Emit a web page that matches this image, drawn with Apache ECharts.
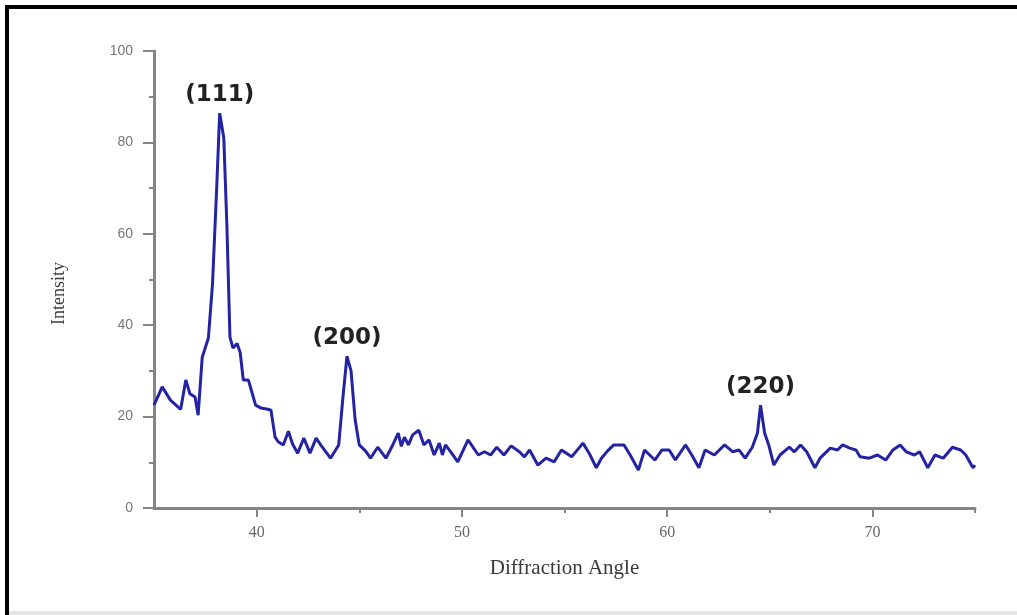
<!DOCTYPE html>
<html>
<head>
<meta charset="utf-8">
<script src="https://cdn.jsdelivr.net/npm/echarts@6/dist/echarts.min.js"></script>
<style>
  html, body { margin: 0; padding: 0; background: #ffffff; }
  #chart { width: 1017px; height: 615px; }
</style>
</head>
<body>
<div id="chart"></div>
<script>
// XRD pattern: diffraction angle (2θ, degrees) vs. intensity
const angles = [
  35.0, 35.4, 35.8, 36.3, 36.55, 36.75, 37.0, 37.15, 37.35, 37.65,
  37.85, 38.05, 38.2, 38.4, 38.55, 38.7, 38.85, 39.05, 39.2, 39.35,
  39.6, 39.95, 40.2, 40.55, 40.7, 40.9, 41.05, 41.3, 41.55, 41.75,
  42.0, 42.3, 42.6, 42.9, 43.2, 43.6, 44.0, 44.2, 44.4, 44.6,
  44.8, 45.0, 45.3, 45.55, 45.9, 46.3, 46.6, 46.9, 47.05, 47.2,
  47.4, 47.6, 47.9, 48.15, 48.4, 48.65, 48.9, 49.05, 49.2, 49.5,
  49.8, 50.3, 50.8, 51.1, 51.4, 51.7, 52.05, 52.4, 52.8, 53.05,
  53.3, 53.7, 54.1, 54.5, 54.85, 55.35, 55.7, 55.9, 56.2, 56.55,
  56.8, 57.1, 57.4, 57.9, 58.2, 58.6, 58.9, 59.4, 59.75, 60.1,
  60.4, 60.9, 61.2, 61.55, 61.85, 62.3, 62.8, 63.2, 63.5, 63.8,
  64.15, 64.4, 64.55, 64.75, 64.95, 65.2, 65.5, 65.95, 66.2, 66.5,
  66.8, 67.2, 67.45, 67.95, 68.3, 68.55, 68.9, 69.2, 69.4, 69.85,
  70.25, 70.65, 71.0, 71.35, 71.65, 72.05, 72.3, 72.7, 73.05, 73.45,
  73.9, 74.3, 74.55, 74.9, 75.0
];
const intensity = [
  22.5, 26.5, 23.6, 21.6, 28.0, 25.0, 24.3, 20.3, 33.0, 37.2,
  49.0, 69.6, 86.4, 81.0, 62.0, 37.4, 35.0, 36.0, 34.0, 28.0,
  28.0, 22.5, 21.9, 21.6, 21.4, 15.5, 14.5, 13.8, 16.8, 14.0,
  12.0, 15.3, 12.0, 15.3, 13.3, 10.9, 13.8, 24.0, 33.2, 30.0,
  19.3, 13.8, 12.5, 10.9, 13.3, 10.9, 13.5, 16.4, 13.5, 15.5,
  13.8, 16.0, 17.0, 13.8, 14.9, 11.6, 14.2, 11.6, 13.8, 12.0,
  10.1, 14.9, 11.6, 12.3, 11.6, 13.3, 11.6, 13.6, 12.3, 11.2,
  12.7, 9.4, 10.9, 10.1, 12.7, 11.2, 13.1, 14.2, 12.0, 8.8,
  10.9, 12.5, 13.8, 13.8, 11.6, 8.3, 12.7, 10.5, 12.7, 12.7,
  10.5, 13.8, 11.6, 8.8, 12.7, 11.6, 13.8, 12.3, 12.7, 10.9,
  13.3, 16.4, 22.5, 16.4, 13.8, 9.4, 11.6, 13.3, 12.3, 13.8,
  12.3, 8.8, 10.9, 13.1, 12.7, 13.8, 13.1, 12.7, 11.2, 10.9,
  11.6, 10.5, 12.7, 13.8, 12.3, 11.6, 12.3, 8.8, 11.6, 10.9,
  13.3, 12.7, 11.6, 8.8, 9.4
];

// Indexed reflections and the angles where they appear
const peakLabels = ['(111)', '(200)', '(220)'];
const peakAngles = [38.2, 44.4, 64.55];

const xMajorTicks = [40, 50, 60, 70];
const xMinorTicks = [45, 55, 65, 75];

const seriesData = angles.map((a, i) => [a, intensity[i]]);

// place each reflection label on the top of its peak
const peakMarks = peakLabels.map((label, k) => {
  let best = 0, bestDist = Infinity;
  angles.forEach((a, i) => {
    const d = Math.abs(a - peakAngles[k]);
    if (d < bestDist) { bestDist = d; best = i; }
  });
  return { name: label, coord: [angles[best], intensity[best]] };
});

const axisGray = '#858585';

const chart = echarts.init(document.getElementById('chart'), null, { renderer: 'canvas' });
chart.setOption({
  animation: false,
  backgroundColor: '#ffffff',
  grid: { left: 154, right: 42, top: 51, bottom: 107, containLabel: false },
  xAxis: [
    {
      type: 'value',
      min: 35,
      max: 75,
      name: 'Diffraction Angle',
      nameLocation: 'middle',
      nameGap: 50,
      nameTextStyle: { fontFamily: 'Liberation Serif', fontSize: 21, color: '#3a3a3a' },
      axisLine: { show: true, lineStyle: { color: axisGray, width: 3 } },
      axisTick: { show: true, customValues: xMajorTicks, length: 9, lineStyle: { color: axisGray, width: 2 } },
      axisLabel: {
        show: true, customValues: xMajorTicks, margin: 17,
        fontFamily: 'Liberation Serif', fontSize: 16, color: '#666666'
      },
      splitLine: { show: false }
    },
    {
      type: 'value',
      min: 35,
      max: 75,
      position: 'bottom',
      axisLine: { show: false },
      axisTick: { show: true, customValues: xMinorTicks, length: 5, lineStyle: { color: axisGray, width: 2 } },
      axisLabel: { show: false },
      splitLine: { show: false }
    }
  ],
  yAxis: {
    type: 'value',
    min: 0,
    max: 100,
    interval: 20,
    name: 'Intensity',
    nameLocation: 'middle',
    nameGap: 86,
    nameTextStyle: { fontFamily: 'Liberation Serif', fontSize: 18, color: '#3a3a3a', padding: [0, 28, 0, 0] },
    axisLine: { show: true, lineStyle: { color: axisGray, width: 3 } },
    axisTick: { show: true, length: 11, lineStyle: { color: axisGray, width: 2 } },
    minorTick: { show: true, splitNumber: 2, length: 5, lineStyle: { color: axisGray, width: 2 } },
    axisLabel: { margin: 21, fontFamily: 'Liberation Sans', fontSize: 14, color: '#777777' },
    splitLine: { show: false },
    minorSplitLine: { show: false }
  },
  series: [{
    type: 'line',
    xAxisIndex: 0,
    data: seriesData,
    showSymbol: false,
    symbol: 'none',
    lineStyle: { color: '#2323a3', width: 3 },
    markPoint: {
      symbol: 'circle',
      symbolSize: 0,
      label: {
        show: true,
        position: 'top',
        distance: 7,
        formatter: p => p.name,
        fontFamily: 'DejaVu Sans',
        fontWeight: 'bold',
        fontSize: 23,
        color: '#222222'
      },
      data: peakMarks
    }
  }],
  graphic: [
    { type: 'rect', shape: { x: 5, y: 5, width: 1012, height: 4 }, style: { fill: '#000000' }, silent: true },
    { type: 'rect', shape: { x: 5, y: 5, width: 4, height: 610 }, style: { fill: '#000000' }, silent: true },
    { type: 'rect', shape: { x: 9, y: 611, width: 1008, height: 4 }, style: { fill: '#e6e6e6' }, silent: true }
  ]
});
</script>
</body>
</html>
